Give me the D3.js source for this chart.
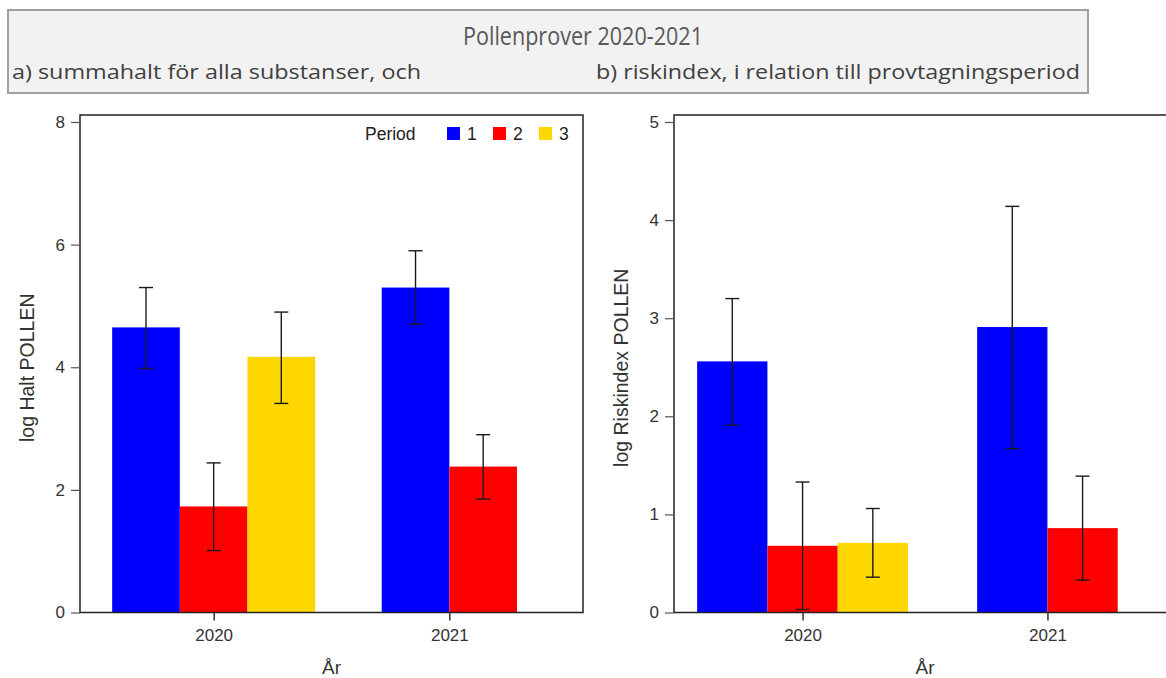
<!DOCTYPE html>
<html>
<head>
<meta charset="utf-8">
<script src="https://cdn.jsdelivr.net/npm/d3@7"></script>
<style>
  html, body { margin: 0; padding: 0; background: #fff; }
  svg { display: block; }
</style>
</head>
<body>
<svg id="chart" width="1166" height="678"></svg>
<script>
// ---- data ----
const years = ["2020", "2021"];
const periods = ["1", "2", "3"];
const periodColors = ["#0000ff", "#ff0000", "#ffd700"];

// Panel a) log Halt POLLEN (rows = years, cols = periods)
const haltMean = [[4.65, 1.73, 4.17], [5.30, 2.38, null]];
const haltLow  = [[3.98, 1.01, 3.41], [4.70, 1.85, null]];
const haltHigh = [[5.30, 2.44, 4.90], [5.90, 2.90, null]];
const haltTicks = [0, 2, 4, 6, 8];

// Panel b) log Riskindex POLLEN
const riskMean = [[2.56, 0.68, 0.71], [2.91, 0.86, null]];
const riskLow  = [[1.91, 0.03, 0.36], [1.67, 0.33, null]];
const riskHigh = [[3.20, 1.33, 1.06], [4.14, 1.39, null]];
const riskTicks = [0, 1, 2, 3, 4, 5];

const titleText = "Pollenprover 2020-2021";
const subA = "a) summahalt för alla substanser, och";
const subB = "b) riskindex, i relation till provtagningsperiod";

// ---- drawing ----
const svg = d3.select("#chart");
const sans = "'Liberation Sans', Arial, sans-serif";
const gray = "#333";

// Title box
svg.append("rect").attr("x", 8).attr("y", 10).attr("width", 1080).attr("height", 83)
  .attr("fill", "#f2f2f2").attr("stroke", "#a0a0a0").attr("stroke-width", 2);
svg.append("text").attr("x", 583).attr("y", 45).attr("text-anchor", "middle")
  .attr("font-family", "'Open Sans', sans-serif").attr("font-size", 26).attr("fill", "#595959")
  .attr("textLength", 240).attr("lengthAdjust", "spacingAndGlyphs").text(titleText);
svg.append("text").attr("x", 12).attr("y", 79)
  .attr("font-family", "'Open Sans', sans-serif").attr("font-size", 20).attr("fill", "#404040")
  .attr("textLength", 409).attr("lengthAdjust", "spacingAndGlyphs").text(subA);
svg.append("text").attr("x", 596).attr("y", 79)
  .attr("font-family", "'Open Sans', sans-serif").attr("font-size", 20).attr("fill", "#404040")
  .attr("textLength", 484).attr("lengthAdjust", "spacingAndGlyphs").text(subB);

function panel(opts) {
  const {x0, x1, y0, y1, pad, yMax, ticks, mean, low, high, yLabel, legend} = opts;
  const g = svg.append("g");
  const x = d3.scalePoint().domain(years).range([x0, x1]).padding(pad);
  const y = d3.scaleLinear().domain([0, yMax]).range([612.5, 122]);
  const step = x.step();
  const bw = step * 0.287;

  // bars
  years.forEach((yr, i) => {
    const present = periods.map((p, j) => j).filter(j => mean[i][j] != null);
    const n = present.length;
    present.forEach((j, k) => {
      const left = x(yr) + (k - n / 2) * bw;
      g.append("rect")
        .attr("x", left).attr("width", bw)
        .attr("y", y(mean[i][j])).attr("height", y(0) - y(mean[i][j]))
        .attr("fill", periodColors[j]);
    });
  });
  // error bars
  years.forEach((yr, i) => {
    const present = periods.map((p, j) => j).filter(j => mean[i][j] != null);
    const n = present.length;
    present.forEach((j, k) => {
      const cx = x(yr) + (k - n / 2 + 0.5) * bw;
      const eg = g.append("g").attr("stroke", "#1a1a1a").attr("stroke-width", 1.4);
      eg.append("line").attr("x1", cx).attr("x2", cx).attr("y1", y(low[i][j])).attr("y2", y(high[i][j]));
      [low[i][j], high[i][j]].forEach(v => {
        eg.append("line").attr("x1", cx - 7).attr("x2", cx + 7).attr("y1", y(v)).attr("y2", y(v));
      });
    });
  });

  // frame
  g.append("rect").attr("x", x0).attr("y", y1).attr("width", x1 - x0).attr("height", y0 - y1)
    .attr("fill", "none").attr("stroke", "#222").attr("stroke-width", 1.5);

  // axes
  const ya = g.append("g").attr("transform", `translate(${x0},0)`)
    .call(d3.axisLeft(y).tickValues(ticks).tickSize(9).tickPadding(6).tickFormat(d3.format("d")));
  ya.select(".domain").remove();
  ya.selectAll("line").attr("stroke", "#555").attr("stroke-width", 1.2);
  ya.selectAll("text").attr("font-family", sans).attr("font-size", 17).attr("fill", gray);

  const xa = g.append("g").attr("transform", `translate(0,${y0})`)
    .call(d3.axisBottom(x).tickSize(8).tickPadding(8));
  xa.select(".domain").remove();
  xa.selectAll("line").attr("stroke", "#333").attr("stroke-width", 1.5);
  xa.selectAll("text").attr("font-family", sans).attr("font-size", 17).attr("fill", gray);

  // axis labels
  g.append("text").attr("transform", `translate(${x0 - 46},${(y0 + y1) / 2 + 4}) rotate(-90)`)
    .attr("text-anchor", "middle").attr("font-family", sans).attr("font-size", 19.5).attr("fill", gray)
    .text(yLabel);
  g.append("text").attr("x", (x0 + x1) / 2).attr("y", 674).attr("text-anchor", "middle")
    .attr("font-family", sans).attr("font-size", 19).attr("fill", gray).text("År");

  if (legend) {
    const lg = g.append("g").attr("font-family", sans).attr("font-size", 17.5).attr("fill", "#222");
    lg.append("text").attr("x", 365).attr("y", 140).text("Period");
    const lx = [447, 493, 539];
    periods.forEach((p, j) => {
      lg.append("rect").attr("x", lx[j]).attr("y", 127).attr("width", 13).attr("height", 13)
        .attr("fill", periodColors[j]);
      lg.append("text").attr("x", lx[j] + 20).attr("y", 140).text(p);
    });
  }
}

panel({x0: 80, x1: 583, y0: 612.5, y1: 115, pad: 0.567, yMax: 8, ticks: haltTicks,
  mean: haltMean, low: haltLow, high: haltHigh, yLabel: "log Halt POLLEN", legend: true});
panel({x0: 674, x1: 1176, y0: 612.5, y1: 115, pad: 0.525, yMax: 5, ticks: riskTicks,
  mean: riskMean, low: riskLow, high: riskHigh, yLabel: "log Riskindex POLLEN", legend: false});
</script>
</body>
</html>
